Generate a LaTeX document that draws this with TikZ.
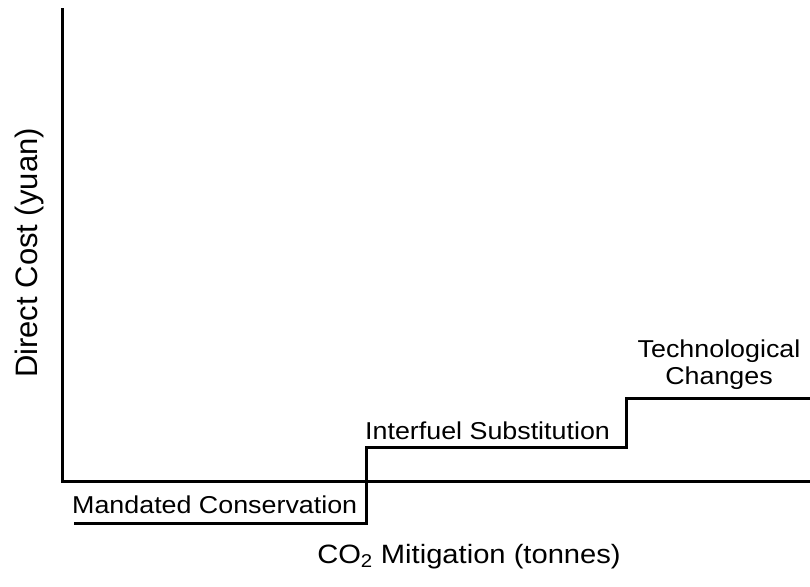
\documentclass[tikz,border=0pt]{standalone}
\usepackage{fontspec}
\setmainfont[FakeStretch=1.1]{Liberation Sans}
\newfontfamily\ylabelfont{Liberation Sans}
\begin{document}
\begin{tikzpicture}[x=1pt,y=1pt,
  axis/.style={line width=3pt,line cap=rect},
  stepline/.style={line width=3pt,line join=miter},
  lbl/.style={inner sep=0pt,font=\fontsize{24.4}{27}\selectfont},
  axlbl/.style={inner sep=0pt,font=\fontsize{26.5}{32}\selectfont}]
\useasboundingbox (0,0) rectangle (810,586);
% axes
\coordinate (top) at (62,576);
\coordinate (orig) at (62,105);
\coordinate (xend) at (810,105);
\draw[axis] (top) -- (orig) -- (xend);
% steps
\coordinate (s0) at (74,63);
\coordinate (s1) at (366,63);
\coordinate (s2) at (366,138);
\coordinate (s3) at (626,138);
\coordinate (s4) at (626,187);
\coordinate (s5) at (810,187);
\draw[stepline] (s0) -- (s1) -- (s2) -- (s3) -- (s4) -- (s5);
% labels
\node[lbl,anchor=base west] (mc) at (72,73) {Mandated Conservation};
\node[lbl,anchor=base west] (is) at (365,146) {Interfuel Substitution};
\node[lbl,align=center,anchor=base] (tc) at (719,201) {Technological\\Changes};
\node[axlbl,anchor=base] (xl) at (469,23) {CO\textsubscript{2} Mitigation (tonnes)};
\node[inner sep=0pt,font=\ylabelfont\fontsize{31}{36}\selectfont,anchor=base,rotate=90] (yl) at (37,333) {Direct Cost (yuan)};
\end{tikzpicture}
\end{document}
